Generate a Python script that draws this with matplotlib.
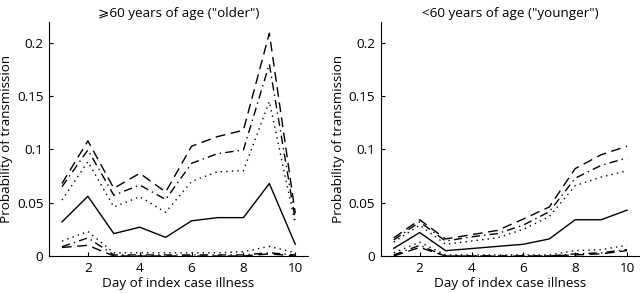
import matplotlib
matplotlib.use("Agg")
import matplotlib.pyplot as plt

days = [1, 2, 3, 4, 5, 6, 7, 8, 9, 10]

# >=60 years ("older")
old_median = [0.032, 0.056, 0.021, 0.027, 0.0175, 0.033, 0.036, 0.036, 0.068, 0.011]
old_hi_dash = [0.068, 0.108, 0.0635, 0.0776, 0.060, 0.103, 0.112, 0.118, 0.209, 0.040]
old_hi_dashdot = [0.065, 0.0995, 0.057, 0.0666, 0.053, 0.087, 0.096, 0.0995, 0.180, 0.034]
old_hi_dot = [0.0525, 0.0885, 0.046, 0.0556, 0.041, 0.070, 0.079, 0.080, 0.145, 0.030]
old_lo_dot = [0.014, 0.023, 0.003, 0.003, 0.003, 0.003, 0.003, 0.004, 0.009, 0.003]
old_lo_dashdot = [0.0087, 0.017, 0.001, 0.001, 0.001, 0.001, 0.001, 0.001, 0.003, 0.001]
old_lo_dash = [0.008, 0.010, 0.0, 0.0, 0.0, 0.0, 0.0, 0.0, 0.002, 0.0]

# <60 years ("younger")
yng_median = [0.0072, 0.022, 0.005, 0.007, 0.009, 0.011, 0.016, 0.034, 0.034, 0.043]
yng_hi_dash = [0.017, 0.034, 0.016, 0.020, 0.024, 0.0347, 0.046, 0.082, 0.095, 0.103]
yng_hi_dashdot = [0.015, 0.032, 0.014, 0.018, 0.021, 0.029, 0.0415, 0.073, 0.085, 0.092]
yng_hi_dot = [0.013, 0.029, 0.011, 0.014, 0.017, 0.025, 0.037, 0.066, 0.074, 0.080]
yng_lo_dot = [0.003, 0.013, 0.001, 0.001, 0.001, 0.001, 0.001, 0.005, 0.006, 0.010]
yng_lo_dashdot = [0.001, 0.010, 0.0, 0.0, 0.0, 0.0, 0.0, 0.002, 0.003, 0.006]
yng_lo_dash = [0.0, 0.008, 0.0, 0.0, 0.0, 0.0, 0.0, 0.001, 0.002, 0.005]

plt.rcParams["font.family"] = ["Open Sans", "DejaVu Sans"]

DASH = (0, (7, 4))
DASHDOT = (0, (6, 3, 1, 3))
DOT = (0, (1, 3))

fig = plt.figure(figsize=(6.4, 2.93), dpi=100)
ax1 = fig.add_axes([0.0766, 0.1263, 0.405, 0.8003])
ax2 = fig.add_axes([0.595, 0.1263, 0.405, 0.8003])


def draw(ax, title, median, hi_dash, hi_dashdot, hi_dot, lo_dot, lo_dashdot, lo_dash):
    ax.plot(days, median, color="black", lw=1.0, linestyle="-")
    ax.plot(days, hi_dash, color="black", lw=1.0, linestyle=DASH)
    ax.plot(days, hi_dashdot, color="black", lw=1.0, linestyle=DASHDOT)
    ax.plot(days, hi_dot, color="black", lw=1.0, linestyle=DOT)
    ax.plot(days, lo_dot, color="black", lw=1.0, linestyle=DOT)
    ax.plot(days, lo_dashdot, color="black", lw=1.0, linestyle=DASHDOT)
    ax.plot(days, lo_dash, color="black", lw=1.0, linestyle=DASH)

    ax.set_xlim(0.5, 10.5)
    ax.set_ylim(0, 0.22)
    ax.set_xticks([2, 4, 6, 8, 10])
    ax.set_yticks([0, 0.05, 0.1, 0.15, 0.2])
    ax.set_yticklabels(["0", "0.05", "0.1", "0.15", "0.2"])
    ax.spines["top"].set_visible(False)
    ax.spines["right"].set_visible(False)
    ax.tick_params(direction="in", length=3, labelsize=9.7, pad=4)
    ax.set_xlabel("Day of index case illness", fontsize=9.7, labelpad=2)
    ax.set_ylabel("Probability of transmission", fontsize=9.7, labelpad=3)
    ax.set_title(title, fontsize=9.7, pad=3)


draw(ax1, "\u2a7e60 years of age (\"older\")", old_median, old_hi_dash, old_hi_dashdot,
     old_hi_dot, old_lo_dot, old_lo_dashdot, old_lo_dash)
draw(ax2, "<60 years of age (\"younger\")", yng_median, yng_hi_dash, yng_hi_dashdot,
     yng_hi_dot, yng_lo_dot, yng_lo_dashdot, yng_lo_dash)

fig.savefig("out.png", dpi=100)
